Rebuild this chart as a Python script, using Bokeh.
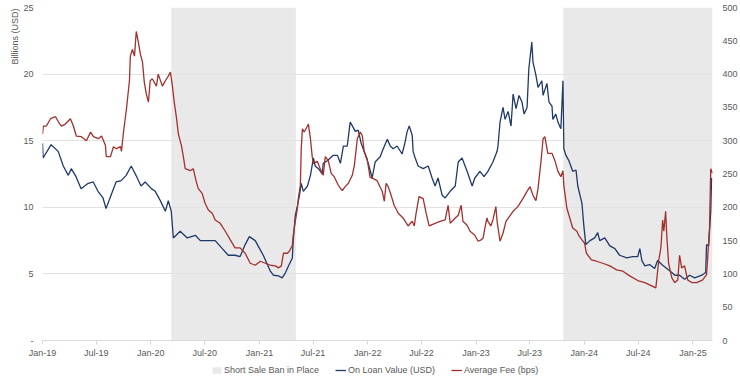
import pandas as pd
from bokeh.plotting import figure
from bokeh.layouts import column
from bokeh.models import (Range1d, LinearAxis, FixedTicker, DatetimeTickFormatter,
                          CustomJSTickFormatter, Legend, LegendItem, Title, ColumnDataSource)
from bokeh.embed import file_html
from bokeh.resources import INLINE

# ---------------- data ----------------
loan_dates = [
    "2019-01-01", "2019-01-03", "2019-01-30", "2019-02-23", "2019-03-12", "2019-03-29", "2019-04-08", "2019-04-24",
    "2019-05-11", "2019-06-04", "2019-06-21", "2019-07-07", "2019-07-24", "2019-08-03", "2019-08-20", "2019-09-06",
    "2019-09-23", "2019-10-10", "2019-10-27", "2019-11-12", "2019-11-29", "2019-12-13",
    "2020-01-03", "2020-01-16", "2020-02-02", "2020-02-19", "2020-02-29", "2020-03-10", "2020-03-17", "2020-04-09",
    "2020-05-03", "2020-05-30", "2020-06-16", "2020-07-13", "2020-08-05", "2020-08-29", "2020-09-18", "2020-10-11",
    "2020-10-28", "2020-11-14", "2020-11-28", "2020-12-18",
    "2021-01-04", "2021-01-14", "2021-02-07", "2021-02-17", "2021-03-06", "2021-03-19", "2021-03-30", "2021-04-09",
    "2021-04-22", "2021-04-25", "2021-05-02", "2021-05-09", "2021-05-16", "2021-05-22", "2021-05-29", "2021-06-12",
    "2021-06-22", "2021-07-02", "2021-07-08", "2021-07-19", "2021-08-01", "2021-08-04", "2021-08-18", "2021-08-28",
    "2021-09-07", "2021-09-21", "2021-10-01", "2021-10-11", "2021-10-24", "2021-11-03", "2021-11-13", "2021-11-20",
    "2021-11-30", "2021-12-10", "2021-12-23",
    "2022-01-03", "2022-01-16", "2022-01-26", "2022-02-12", "2022-02-19", "2022-03-08", "2022-03-18", "2022-03-28",
    "2022-04-10", "2022-04-27", "2022-05-07", "2022-05-14", "2022-05-21", "2022-05-31", "2022-06-03", "2022-06-10",
    "2022-06-20", "2022-07-07", "2022-07-24", "2022-08-06", "2022-08-16", "2022-08-26", "2022-09-09", "2022-09-19",
    "2022-10-06", "2022-10-23", "2022-11-02", "2022-11-15", "2022-12-02", "2022-12-19", "2022-12-28",
    "2023-01-14", "2023-01-28", "2023-02-10", "2023-02-27", "2023-03-13", "2023-03-16", "2023-03-23", "2023-04-02",
    "2023-04-09", "2023-04-19", "2023-04-29", "2023-05-06", "2023-05-16", "2023-05-26", "2023-06-05", "2023-06-12",
    "2023-06-22", "2023-06-28", "2023-07-08", "2023-07-12", "2023-07-22", "2023-07-29", "2023-08-11", "2023-08-15",
    "2023-08-28", "2023-09-04", "2023-09-14", "2023-09-17", "2023-09-27", "2023-10-04", "2023-10-14", "2023-10-21",
    "2023-10-24", "2023-10-31", "2023-11-10", "2023-11-23", "2023-12-04", "2023-12-10", "2023-12-24", "2023-12-30",
    "2024-01-06", "2024-01-20", "2024-02-05", "2024-02-15", "2024-02-22", "2024-03-10", "2024-03-27", "2024-04-13",
    "2024-04-29", "2024-05-23", "2024-06-12", "2024-06-29", "2024-07-06", "2024-07-13", "2024-07-23", "2024-08-08",
    "2024-08-25", "2024-09-04", "2024-09-18", "2024-10-05", "2024-10-22", "2024-11-01", "2024-11-17", "2024-12-04",
    "2024-12-21",
    "2025-01-07", "2025-01-31", "2025-02-13", "2025-02-16", "2025-02-23", "2025-03-02", "2025-03-05",
]
loan_values = [
    14.8, 13.7, 14.7, 14.2, 13.1, 12.4, 12.9, 12.3, 11.4, 11.8, 11.9, 11.2, 10.7, 9.9, 10.9, 11.9, 12.0, 12.4, 13.1,
    12.4, 11.6, 11.9,
    11.4, 11.2, 10.5, 9.7, 10.5, 9.7, 7.7, 8.2, 7.7, 7.9, 7.5, 7.5, 7.5, 6.9, 6.4, 6.4, 6.3, 7.2, 7.8, 7.5,
    6.8, 6.4, 5.2, 4.9, 4.85, 4.7, 5.1, 5.6, 6.2, 7.5, 9.4, 10.1, 10.9, 11.8, 11.2, 11.6, 12.4, 13.7, 13.1, 12.9,
    12.5, 13.3, 13.5, 13.7, 13.9, 13.9, 13.3, 14.6, 14.6, 16.4, 16.0, 15.7, 15.8, 14.8, 14.0,
    13.3, 12.2, 13.4, 13.8, 14.2, 15.1, 14.6, 14.4, 14.6, 14.0, 14.9, 15.7, 16.1, 15.4, 14.2, 13.7, 13.1, 12.9,
    13.1, 12.2, 11.6, 12.2, 10.9, 10.7, 11.2, 11.6, 13.4, 13.7, 12.7, 11.6, 12.2,
    12.7, 12.3, 12.7, 13.4, 14.2, 14.6, 16.4, 17.5, 16.6, 17.2, 16.1, 18.5, 17.4, 18.4, 17.9, 17.0, 17.5, 20.4,
    22.4, 20.9, 19.9, 19.0, 19.5, 18.4, 19.3, 17.9, 17.6, 16.6, 17.0, 16.4, 15.9, 19.5, 14.4, 13.9, 13.5, 12.7,
    12.8, 11.6, 10.3, 8.7,
    7.2, 7.5, 7.7, 8.1, 7.5, 7.7, 7.1, 6.9, 6.4, 6.2, 6.3, 6.3, 6.9, 6.0, 5.6, 5.7, 5.4, 6.0, 5.7, 5.4, 5.1, 4.9,
    4.9, 4.6, 4.9,
    4.7, 4.9, 5.1, 7.2, 7.1, 9.7, 12.2,
]

fee_dates = [
    "2019-01-01", "2019-01-04", "2019-01-14", "2019-01-28", "2019-02-14", "2019-02-24", "2019-03-06", "2019-03-19",
    "2019-04-05", "2019-04-15", "2019-04-25", "2019-05-12", "2019-05-29", "2019-06-12", "2019-06-22", "2019-07-08",
    "2019-07-19", "2019-08-01", "2019-08-04", "2019-08-18", "2019-08-28", "2019-09-07", "2019-09-21", "2019-09-24",
    "2019-10-01", "2019-10-11", "2019-10-21", "2019-10-24", "2019-10-31", "2019-11-07", "2019-11-13", "2019-11-20",
    "2019-11-27", "2019-12-04", "2019-12-10", "2019-12-17", "2019-12-24", "2019-12-30",
    "2020-01-06", "2020-01-20", "2020-01-26", "2020-02-09", "2020-02-19", "2020-02-29", "2020-03-07", "2020-03-13",
    "2020-03-20", "2020-03-27", "2020-04-03", "2020-04-13", "2020-04-19", "2020-04-26", "2020-05-13", "2020-05-23",
    "2020-06-02", "2020-06-09", "2020-06-22", "2020-07-02", "2020-07-13", "2020-07-26", "2020-08-05", "2020-08-22",
    "2020-09-08", "2020-09-25", "2020-10-11", "2020-10-28", "2020-11-14", "2020-12-01", "2020-12-18",
    "2021-01-04", "2021-01-21", "2021-02-07", "2021-02-24", "2021-03-06", "2021-03-16", "2021-03-23", "2021-04-05",
    "2021-04-12", "2021-04-22", "2021-04-25", "2021-05-02", "2021-05-09", "2021-05-12", "2021-05-19", "2021-05-22",
    "2021-05-26", "2021-06-01", "2021-06-12", "2021-06-15", "2021-06-22", "2021-06-28", "2021-07-02", "2021-07-15",
    "2021-07-25", "2021-08-04", "2021-08-11", "2021-08-21", "2021-08-31", "2021-09-10", "2021-09-24", "2021-10-07",
    "2021-10-17", "2021-10-28", "2021-11-10", "2021-11-17", "2021-11-27", "2021-12-07", "2021-12-14", "2021-12-20",
    "2021-12-30",
    "2022-01-09", "2022-01-20", "2022-02-02", "2022-02-12", "2022-02-19", "2022-02-26", "2022-03-04", "2022-03-11",
    "2022-03-21", "2022-03-31", "2022-04-14", "2022-04-30", "2022-05-17", "2022-05-31", "2022-06-07", "2022-06-13",
    "2022-06-23", "2022-07-07", "2022-07-17", "2022-07-27", "2022-08-16", "2022-09-02", "2022-09-19", "2022-09-29",
    "2022-10-06", "2022-10-23", "2022-11-02", "2022-11-12", "2022-11-18", "2022-12-02", "2022-12-12", "2022-12-28",
    "2023-01-08", "2023-01-18", "2023-01-25", "2023-01-31", "2023-02-07", "2023-02-10", "2023-02-20", "2023-02-27",
    "2023-03-09", "2023-03-13", "2023-03-23", "2023-04-02", "2023-04-12", "2023-04-25", "2023-05-06", "2023-05-22",
    "2023-06-08", "2023-06-22", "2023-07-02", "2023-07-12", "2023-07-22", "2023-07-29", "2023-08-08", "2023-08-15",
    "2023-08-21", "2023-08-31", "2023-09-14", "2023-09-24", "2023-10-04", "2023-10-14", "2023-10-21", "2023-10-24",
    "2023-11-03", "2023-11-13", "2023-11-23", "2023-12-07", "2023-12-14", "2023-12-24",
    "2024-01-02", "2024-01-08", "2024-01-25", "2024-02-11", "2024-03-03", "2024-03-27", "2024-04-19", "2024-05-10",
    "2024-06-02", "2024-06-29", "2024-07-23", "2024-08-15", "2024-08-29", "2024-09-01", "2024-09-08", "2024-09-15",
    "2024-09-21", "2024-09-25", "2024-10-01", "2024-10-05", "2024-10-11", "2024-10-22", "2024-11-01", "2024-11-11",
    "2024-11-17", "2024-11-24", "2024-12-04", "2024-12-14", "2024-12-28",
    "2025-01-14", "2025-02-03", "2025-02-16", "2025-02-19", "2025-02-26", "2025-03-02", "2025-03-08",
]
fee_values = [
    310, 322, 322, 333, 336, 328, 322, 325, 333, 322, 307, 306, 300, 313, 306, 303, 307, 293, 276, 276, 291, 288,
    291, 284, 313, 348, 390, 427, 437, 427, 464, 448, 430, 418, 388, 370, 358, 390,
    393, 382, 400, 382, 390, 397, 403, 385, 358, 336, 310, 293, 278, 258, 255, 258, 239, 228, 221, 206, 196, 191,
    181, 176, 164, 151, 139, 139, 131, 116, 113,
    119, 116, 113, 112, 109, 112, 131, 131, 134, 143, 158, 179, 198, 213, 233, 288, 318, 313, 322, 325, 303, 276,
    266, 269, 258, 248, 276, 270, 251, 246, 233, 225, 231, 236, 248, 263, 303, 313, 307, 284, 273,
    245, 243, 240, 230, 224, 209, 236, 231, 218, 203, 191, 184, 172, 179, 172, 191, 216, 213, 191, 172, 176, 179,
    181, 203, 176, 184, 188, 203, 179, 173, 164, 158,
    149, 151, 154, 169, 184, 179, 172, 181, 201, 179, 149, 161, 179, 187, 194, 201, 213, 224, 231, 218, 210, 228,
    269, 303, 306, 281, 281, 270, 254, 246, 255, 233, 199, 184, 169, 164, 157, 151,
    146, 131, 121, 119, 116, 112, 106, 104, 97, 90, 87, 82, 79, 91, 121, 139, 181, 164, 194, 157, 116, 94, 87, 91,
    128, 109, 112, 91, 87,
    87, 91, 99, 119, 169, 258, 251,
]

ban_start = ["2020-03-10", "2023-10-22"]
ban_end = ["2021-05-04", "2025-03-08"]

x_start = "2019-01-01"
x_end = "2025-03-08"
tick_dates = ["2019-01-01", "2019-07-01", "2020-01-01", "2020-07-01", "2021-01-01", "2021-07-01", "2022-01-01",
              "2022-07-01", "2023-01-01", "2023-07-01", "2024-01-01", "2024-07-01", "2025-01-01"]
left_ticks = [0, 5, 10, 15, 20, 25]
right_ticks = [0, 50, 100, 150, 200, 250, 300, 350, 400, 450, 500]

# ---------------- styling ----------------
FONT = "Liberation Sans"
TXT = "#595959"
BLUE = "#1f3a68"
RED = "#a3302c"
GRAY = "#e9e9e9"
GRID = "#e2e2e2"
LW = 1.3

loan_src = ColumnDataSource(dict(date=pd.to_datetime(loan_dates), value=loan_values))
fee_src = ColumnDataSource(dict(date=pd.to_datetime(fee_dates), value=fee_values))
ban_src = ColumnDataSource(dict(start=pd.to_datetime(ban_start), end=pd.to_datetime(ban_end),
                                bottom=[left_ticks[0]] * len(ban_start), top=[left_ticks[-1]] * len(ban_start)))

p = figure(width=740, height=360, x_axis_type="datetime",
           x_range=Range1d(pd.Timestamp(x_start), pd.Timestamp(x_end)),
           y_range=Range1d(left_ticks[0], left_ticks[-1]),
           output_backend="svg", toolbar_location=None,
           min_border_top=7, min_border_right=0, min_border_left=42, min_border_bottom=16)
p.outline_line_color = None
p.background_fill_color = "white"
p.border_fill_color = "white"

p.extra_y_ranges = {"fee": Range1d(right_ticks[0], right_ticks[-1])}

p.quad(left="start", right="end", bottom="bottom", top="top", source=ban_src,
       fill_color=GRAY, line_color=None, level="underlay")
p.line("date", "value", source=loan_src, line_color=BLUE, line_width=LW)
p.line("date", "value", source=fee_src, line_color=RED, line_width=LW, y_range_name="fee")

# grid
p.xgrid.grid_line_color = None
p.ygrid.ticker = FixedTicker(ticks=left_ticks)
p.ygrid.grid_line_color = GRID
p.ygrid.grid_line_width = 1
p.ygrid.level = "underlay"

# x axis
xa = p.xaxis[0]
xa.ticker = FixedTicker(ticks=[pd.Timestamp(d).timestamp() * 1000 for d in tick_dates])
fmt = "%b-%y"
xa.formatter = DatetimeTickFormatter(microseconds=fmt, milliseconds=fmt, seconds=fmt, minsec=fmt, minutes=fmt,
                                     hourmin=fmt, hours=fmt, days=fmt, months=fmt, years=fmt)
xa.axis_line_color = "#d9d9d9"
xa.major_tick_line_color = "#d9d9d9"
xa.major_tick_out = 4
xa.major_tick_in = 0
xa.minor_tick_line_color = None
xa.major_label_standoff = 3
xa.major_label_text_font = FONT
xa.major_label_text_font_size = "9px"
xa.major_label_text_color = TXT

# left axis
ya = p.yaxis[0]
ya.ticker = FixedTicker(ticks=left_ticks)
ya.formatter = CustomJSTickFormatter(code="return tick == 0 ? '-' : String(tick);")
ya.axis_line_color = None
ya.major_tick_line_color = None
ya.minor_tick_line_color = None
ya.major_tick_out = 0
ya.major_tick_in = 0
ya.major_label_standoff = 9
ya.major_label_text_font = FONT
ya.major_label_text_font_size = "9px"
ya.major_label_text_color = TXT

# right axis
ra = LinearAxis(y_range_name="fee", ticker=FixedTicker(ticks=right_ticks))
ra.axis_line_color = None
ra.major_tick_line_color = None
ra.minor_tick_line_color = None
ra.major_tick_out = 0
ra.major_tick_in = 0
ra.major_label_standoff = 10
ra.major_label_text_font = FONT
ra.major_label_text_font_size = "9px"
ra.major_label_text_color = TXT
p.add_layout(ra, "right")

# left axis title, aligned at the top
t = Title(text="Billions (USD)", align="right", text_font=FONT, text_font_size="9px",
          text_font_style="normal", text_color=TXT, standoff=2, offset=1)
p.add_layout(t, "left")

# ---------------- legend strip below the chart ----------------
NAN = float("nan")
lf = figure(width=740, height=19, output_backend="svg", toolbar_location=None,
            x_axis_location=None, y_axis_location=None, min_border=0,
            x_range=Range1d(0, 1), y_range=Range1d(0, 1))
lf.outline_line_color = None
lf.xgrid.visible = False
lf.ygrid.visible = False
k_ban = lf.quad(left=[NAN], right=[NAN], bottom=[NAN], top=[NAN], fill_color=GRAY, line_color=None)
k_loan = lf.line(x=[NAN], y=[NAN], line_color=BLUE, line_width=LW)
k_fee = lf.line(x=[NAN], y=[NAN], line_color=RED, line_width=LW)
legend = Legend(items=[LegendItem(label="Short Sale Ban in Place", renderers=[k_ban]),
                       LegendItem(label="On Loan Value (USD)", renderers=[k_loan]),
                       LegendItem(label="Average Fee (bps)", renderers=[k_fee])],
                orientation="horizontal", location=(169, 4),
                label_text_font=FONT, label_text_font_size="9px", label_text_color=TXT,
                glyph_width=11, glyph_height=8, label_height=10, label_standoff=2, spacing=16,
                padding=0, margin=0, border_line_color=None, background_fill_alpha=0)
lf.add_layout(legend)

layout = column(p, lf, spacing=0)
open("out.html", "w").write(file_html(layout, INLINE))
